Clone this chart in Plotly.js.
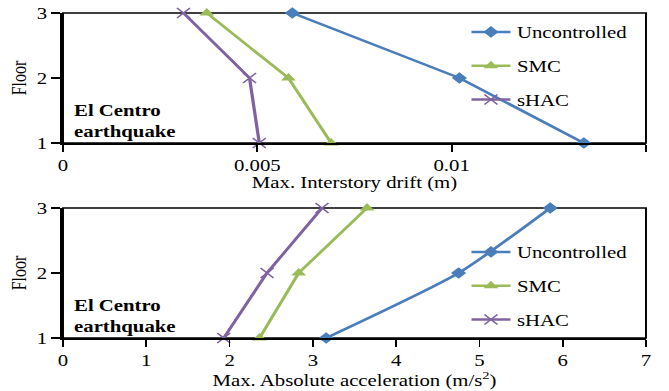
<!DOCTYPE html>
<html>
<head>
<meta charset="utf-8">
<script src="https://cdn.plot.ly/plotly-3.0.1.min.js"></script>
<style>
html,body{margin:0;padding:0;background:#fff;overflow:hidden;width:669px;height:391px;}
#chart{width:515px;height:391px;transform:scaleX(1.299);transform-origin:0 0;}
</style>
</head>
<body>
<div id="chart"></div>
<script>
const floors = [1, 2, 3];
const seriesNames = ["Uncontrolled", "SMC", "sHAC"];
// Max. interstory drift (m), floors 1..3
const driftUncontrolled = [0.0134, 0.0102, 0.0059];
const driftSMC = [0.0069, 0.0058, 0.0037];
const driftSHAC = [0.00505, 0.0048, 0.0031];
// Max. absolute acceleration (m/s^2), floors 1..3
const accUncontrolled = [3.16, 4.75, 5.85];
const accSMC = [2.36, 2.83, 3.65];
const accSHAC = [1.93, 2.45, 3.11];
const driftTicks = [0, 0.005, 0.01, 0.015];
const driftTickLabels = ["0", "0.005", "0.01", "0.015"];
const accTicks = [0, 1, 2, 3, 4, 5, 6, 7];
const floorTicks = [1, 2, 3];
const noteText = "<b>El Centro<br>earthquake</b>";

const colors = ["#4A7EBB", "#9BBB59", "#7F63A1"];
const markers = [
  {symbol: "diamond", size: 9, color: colors[0]},
  {symbol: "triangle-up", size: 10, color: colors[1]},
  {symbol: "x-thin", size: 10, color: colors[2], line: {color: colors[2], width: 1.3}}
];
const serif = "Liberation Serif, Times New Roman, serif";

function mk(x, i, xa, ya, leg, shape) {
  return {
    x: x, y: floors, name: seriesNames[i], type: "scatter", mode: "lines+markers",
    xaxis: xa, yaxis: ya, legend: leg, legendgroup: leg + i,
    line: {color: colors[i], width: 2.5, shape: shape || "linear", smoothing: 0.6},
    marker: markers[i], cliponaxis: false
  };
}

const data = [
  mk(driftUncontrolled, 0, "x", "y", "legend"),
  mk(driftSMC, 1, "x", "y", "legend"),
  mk(driftSHAC, 2, "x", "y", "legend"),
  mk(accUncontrolled, 0, "x2", "y2", "legend2", "spline"),
  mk(accSMC, 1, "x2", "y2", "legend2"),
  mk(accSHAC, 2, "x2", "y2", "legend2")
];

const FW = 669, W = 515, H = 391;
const xd = [63 / FW, 646 / FW];
const yTop = [1 - 143 / H, 1 - 13 / H];
const yBot = [1 - 338 / H, 1 - 208 / H];
const FS = 16;

const axBase = {
  showgrid: false, zeroline: false, showline: true, linecolor: "#000", linewidth: 2,
  ticks: "outside", ticklen: 7, tickwidth: 1.3, tickcolor: "#000",
  tickfont: {family: serif, size: FS, color: "#000"}
};

const layout = {
  width: W, height: H,
  margin: {l: 0, r: 0, t: 0, b: 0},
  paper_bgcolor: "#fff", plot_bgcolor: "#fff",
  font: {family: serif, size: FS, color: "#000"},
  xaxis: Object.assign({}, axBase, {
    domain: xd, anchor: "y", range: [0, 0.015], tickvals: driftTicks, ticktext: driftTickLabels,
    title: {text: "Max. Interstory drift (m)", font: {family: serif, size: FS}, standoff: 3}
  }),
  yaxis: Object.assign({}, axBase, {
    domain: yTop, anchor: "x", range: [1, 3], tickvals: floorTicks,
    title: {text: "Floor", font: {family: serif, size: FS}, standoff: 4}
  }),
  xaxis2: Object.assign({}, axBase, {
    domain: xd, anchor: "y2", range: [0, 7], tickvals: accTicks,
    title: {text: "Max. Absolute acceleration (m/s<sup>2</sup>)", font: {family: serif, size: FS}, standoff: 2}
  }),
  yaxis2: Object.assign({}, axBase, {
    domain: yBot, anchor: "x2", range: [1, 3], tickvals: floorTicks,
    title: {text: "Floor", font: {family: serif, size: FS}, standoff: 4}
  }),
  legend: {
    x: 465 / FW, y: 1 - 15 / H, xanchor: "left", yanchor: "top",
    bgcolor: "rgba(0,0,0,0)", tracegroupgap: 10, itemwidth: 30,
    font: {family: serif, size: FS, color: "#000"}
  },
  legend2: {
    x: 465 / FW, y: 1 - 235 / H, xanchor: "left", yanchor: "top",
    bgcolor: "rgba(0,0,0,0)", tracegroupgap: 10, itemwidth: 30,
    font: {family: serif, size: FS, color: "#000"}
  },
  shapes: [
    {type: "rect", xref: "paper", yref: "paper", x0: xd[0], x1: xd[1], y0: yTop[0], y1: yTop[1], line: {color: "#000", width: 1.5}, layer: "below"},
    {type: "rect", xref: "paper", yref: "paper", x0: xd[0], x1: xd[1], y0: yBot[0], y1: yBot[1], line: {color: "#000", width: 1.5}, layer: "below"}
  ],
  annotations: [
    {text: noteText, xref: "paper", yref: "paper", x: 71 / FW, y: 1 - 121 / H, xanchor: "left", yanchor: "middle", align: "left", showarrow: false, font: {family: serif, size: FS, color: "#000"}},
    {text: noteText, xref: "paper", yref: "paper", x: 71 / FW, y: 1 - 316 / H, xanchor: "left", yanchor: "middle", align: "left", showarrow: false, font: {family: serif, size: FS, color: "#000"}}
  ]
};

Plotly.newPlot("chart", data, layout, {staticPlot: true, displayModeBar: false});
</script>
</body>
</html>
